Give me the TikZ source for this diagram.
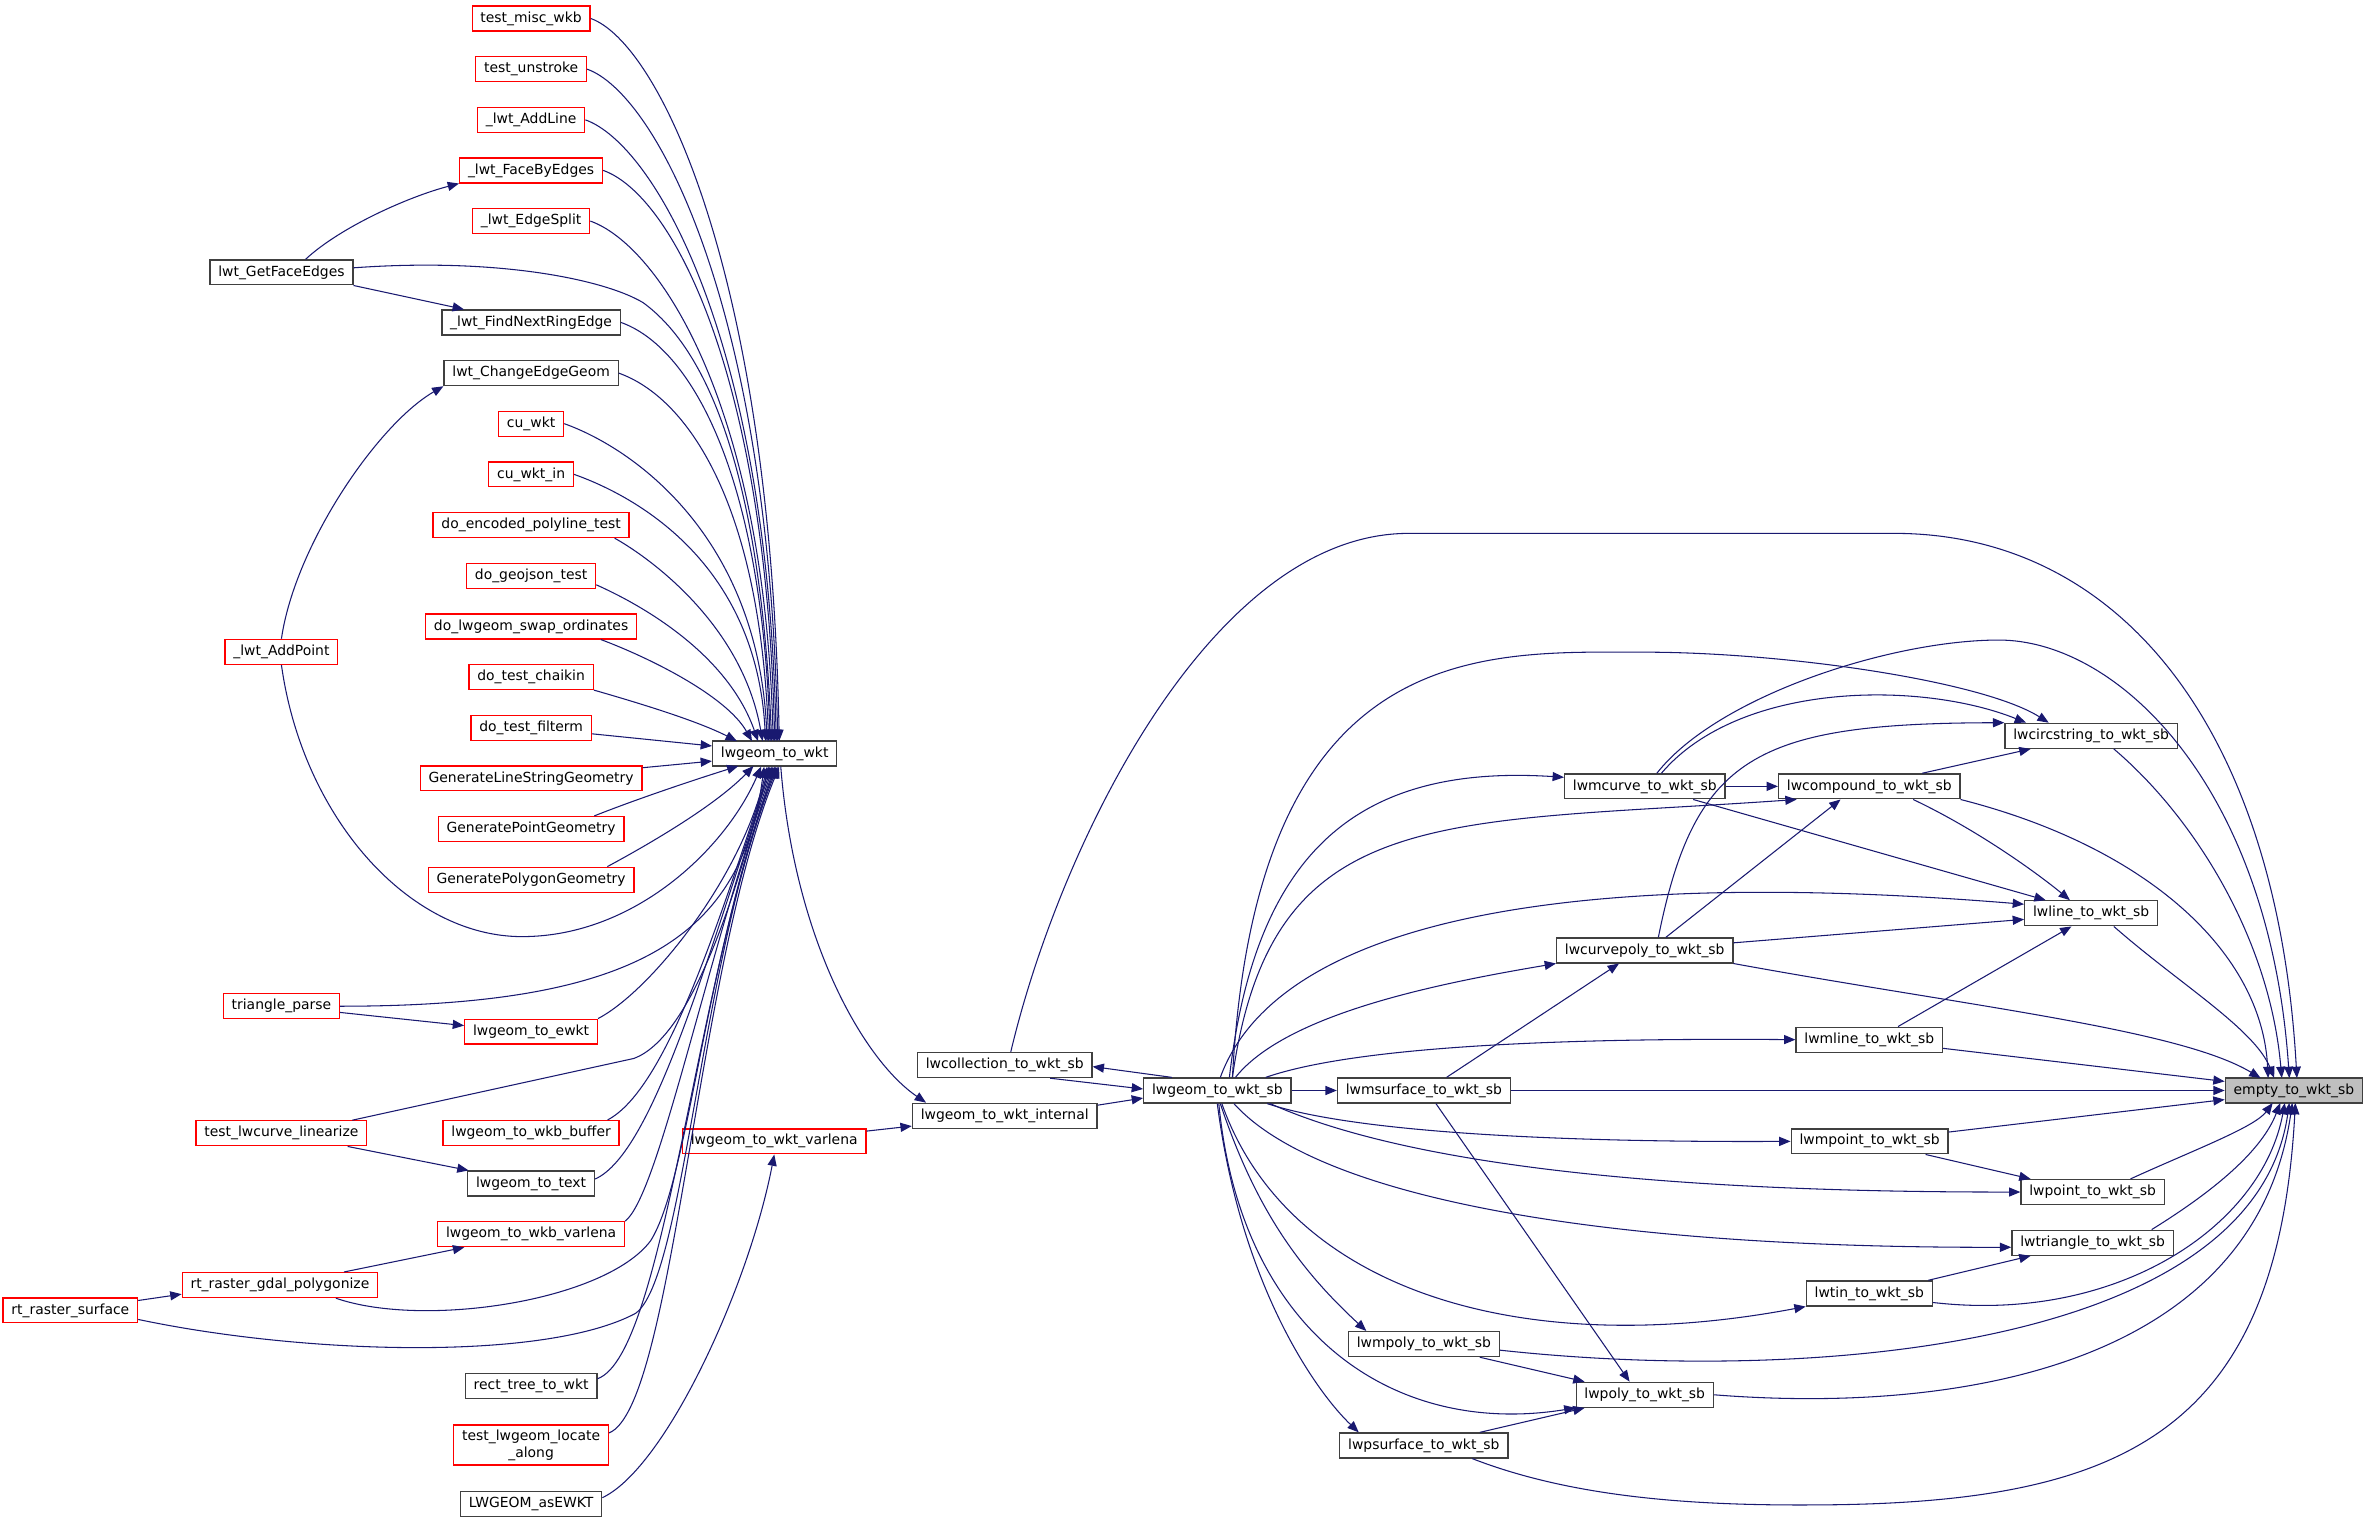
\documentclass[tikz,border=0pt]{standalone}
\usepackage{fontspec}
\newfontfamily\fnfont{DejaVu Sans}
\usetikzlibrary{arrows.meta}
\definecolor{callblue}{HTML}{191970}
\definecolor{curgray}{HTML}{BFBFBF}
\definecolor{boxline}{HTML}{404040}
\tikzset{
  fn/.style={rectangle, draw=boxline, fill=white, line width=0.85pt, inner xsep=5.5pt, inner ysep=0pt,
    minimum height=16.5pt, font=\fnfont\fontsize{9.2}{11}\selectfont},
  fnr/.style={fn, draw=red},
  fncur/.style={fn, fill=curgray},
  callto/.style={draw=callblue, line width=0.7pt, -{Triangle[length=7.5pt, width=6pt]}}
}
\begin{document}
\begin{tikzpicture}[x=1pt, y=-1pt]
    \useasboundingbox (0,0) rectangle (1565,1006.55);
    % callers of lwgeom_to_wkt
    \node[fnr] (mwkb) at (351,12.2) {test\_misc\_wkb};
    \node[fnr] (unstroke) at (351,45.7) {test\_unstroke};
    \node[fnr] (addline) at (351,79.2) {\_lwt\_AddLine};
    \node[fnr] (facebyedges) at (351,112.6) {\_lwt\_FaceByEdges};
    \node[fnr] (edgesplit) at (351,146.1) {\_lwt\_EdgeSplit};
    \node[fn] (getface) at (186,180) {lwt\_GetFaceEdges};
    \node[fn] (nextring) at (351,213.1) {\_lwt\_FindNextRingEdge};
    \node[fn] (changeedge) at (351,246.6) {lwt\_ChangeEdgeGeom};
    \node[fnr] (cuwkt) at (351,280) {cu\_wkt};
    \node[fnr] (cuwktin) at (351,313.5) {cu\_wkt\_in};
    \node[fnr] (encpoly) at (351,347) {do\_encoded\_polyline\_test};
    \node[fnr] (geojson) at (351,380.5) {do\_geojson\_test};
    \node[fnr] (swapord) at (351,414) {do\_lwgeom\_swap\_ordinates};
    \node[fnr] (addpoint) at (186,430.8) {\_lwt\_AddPoint};
    \node[fnr] (chaikin) at (351,447.4) {do\_test\_chaikin};
    \node[fnr] (filterm) at (351,480.9) {do\_test\_filterm};
    \node[fnr] (genline) at (351,514.4) {GenerateLineStringGeometry};
    \node[fnr] (genpoint) at (351,547.9) {GeneratePointGeometry};
    \node[fnr] (genpoly) at (351,581.4) {GeneratePolygonGeometry};
    \node[fnr] (triparse) at (186,665) {triangle\_parse};
    \node[fnr] (toewkt) at (351,681.8) {lwgeom\_to\_ewkt};
    \node[fnr] (curvelin) at (186,749) {test\_lwcurve\_linearize};
    \node[fnr] (wkbbuf) at (351,748.8) {lwgeom\_to\_wkb\_buffer};
    \node[fn] (totext) at (351,782.2) {lwgeom\_to\_text};
    \node[fnr] (wkbvar) at (351,815.7) {lwgeom\_to\_wkb\_varlena};
    \node[fnr] (gdalpoly) at (185,849.3) {rt\_raster\_gdal\_polygonize};
    \node[fnr] (rastsurf) at (46.5,866) {rt\_raster\_surface};
    \node[fn] (recttree) at (351,916.2) {rect\_tree\_to\_wkt};
    \node[fnr, align=center, minimum height=26.5pt] (locate) at (351,955) {test\_lwgeom\_locate\\\_along};
    \node[fn] (asewkt) at (351,993.8) {LWGEOM\_asEWKT};
    % middle
    \node[fn] (towkt) at (512,498) {lwgeom\_to\_wkt};
    \node[fnr] (wktvar) at (511.7,754.3) {lwgeom\_to\_wkt\_varlena};
    \node[fn] (wktint) at (664,737.4) {lwgeom\_to\_wkt\_internal};
    \node[fn] (coll) at (664,703.9) {lwcollection\_to\_wkt\_sb};
    \node[fn] (wktsb) at (804.5,720.7) {lwgeom\_to\_wkt\_sb};
    % writers
    \node[fn] (msurf) at (941,720.7) {lwmsurface\_to\_wkt\_sb};
    \node[fn] (mcurve) at (1087,519.7) {lwmcurve\_to\_wkt\_sb};
    \node[fn] (compound) at (1235.4,519.7) {lwcompound\_to\_wkt\_sb};
    \node[fn] (circ) at (1382,486.3) {lwcircstring\_to\_wkt\_sb};
    \node[fn] (line) at (1382,603.6) {lwline\_to\_wkt\_sb};
    \node[fn] (curvepoly) at (1087,628.1) {lwcurvepoly\_to\_wkt\_sb};
    \node[fn] (mline) at (1235.4,687.1) {lwmline\_to\_wkt\_sb};
    \node[fncur] (empty) at (1516,720.7) {empty\_to\_wkt\_sb};
    \node[fn] (mpoint) at (1235.6,754.3) {lwmpoint\_to\_wkt\_sb};
    \node[fn] (point) at (1383,787.8) {lwpoint\_to\_wkt\_sb};
    \node[fn] (triangle) at (1383,821.3) {lwtriangle\_to\_wkt\_sb};
    \node[fn] (tin) at (1235.4,854.8) {lwtin\_to\_wkt\_sb};
    \node[fn] (mpoly) at (941,888.3) {lwmpoly\_to\_wkt\_sb};
    \node[fn] (poly) at (1087,921.8) {lwpoly\_to\_wkt\_sb};
    \node[fn] (psurf) at (941,955.3) {lwpsurface\_to\_wkt\_sb};

    % into lwgeom_to_wkt from above
    \foreach \n/\ex/\h in {mwkb/515/310, unstroke/514/289, addline/513/267, facebyedges/512/245,
        edgesplit/511/223, nextring/509/180, changeedge/508/158, cuwkt/507/136, cuwktin/506/115}
        \draw[callto] (\n.east) .. controls +(45,16) and +(-6,-\h) .. (\ex,489.75);
    \draw[callto] ([yshift=3pt]getface.east) .. controls (330,170) and (400,185) .. (425,200)
        .. controls (480,240) and (504,350) .. (510,489.75);
    \draw[callto] ([xshift=-10pt]encpoly.south east) .. controls (425,366) and (490,410) .. (504,489.75);
    \draw[callto] ([yshift=-6pt]geojson.east) .. controls (420,398) and (480,430) .. (501,489.75);
    \draw[callto] ([xshift=-24pt]swapord.south east) .. controls (430,435) and (480,460) .. (497,489.75);
    \draw[callto] (chaikin.south east) .. controls (420,464) and (460,476) .. (487,489.75);
    \draw[callto] (filterm) -- ([yshift=5pt]towkt.west);
    \draw[callto] (genline) -- ([yshift=-5pt]towkt.west);
    \draw[callto] ([xshift=-20pt]genpoint.north east) .. controls (421,528) and (460,515) .. (488,506.25);
    \draw[callto] ([xshift=-18pt]genpoly.north east) .. controls (438,553) and (475,530) .. (498,506.25);
    % into lwgeom_to_wkt from below
    \draw[callto] (addpoint.south) .. controls (200,540) and (270,619) .. (345,619)
        .. controls (420,619) and (480,560) .. ([xshift=-9pt]towkt.south);
    \draw[callto] (triparse.east) .. controls (420,665) and (490,620) .. ([xshift=-7pt]towkt.south);
    \draw[callto] (toewkt.north east) .. controls (430,655) and (490,580) .. ([xshift=-5pt]towkt.south);
    \draw[callto] ([xshift=-10pt]curvelin.north east) -- (419,699.5)
        .. controls (455,686) and (485,600) .. ([xshift=-4pt]towkt.south);
    \draw[callto] ([xshift=-8pt]wkbbuf.north east) .. controls (440,720) and (475,610) .. ([xshift=-3pt]towkt.south);
    \draw[callto] ([yshift=3pt]totext.east) .. controls (432,762) and (468,630) .. ([xshift=-2pt]towkt.south);
    \draw[callto] (wkbvar.north east) .. controls (435,790) and (465,640) .. ([xshift=-1pt]towkt.south);
    \draw[callto] ([xshift=-28pt]gdalpoly.south east) .. controls (280,878) and (400,860) .. (430,820)
        .. controls (455,780) and (465,640) .. (towkt.south);
    \draw[callto] ([yshift=-6pt]rastsurf.east) .. controls (200,895) and (360,900) .. (420,868)
        .. controls (452,845) and (462,640) .. ([xshift=1pt]towkt.south);
    \draw[callto] ([yshift=5pt]recttree.east) .. controls (440,895) and (460,640) .. ([xshift=2pt]towkt.south);
    \draw[callto] ([yshift=8pt]locate.east) .. controls (445,930) and (460,640) .. ([xshift=3pt]towkt.south);
    % left side calls
    \draw[callto] ([xshift=16pt]getface.north) .. controls (225,150) and (270,130) .. (facebyedges.south west);
    \draw[callto] (getface.south east) -- ([xshift=15pt]nextring.north west);
    \draw[callto] (addpoint.north) .. controls (195,360) and (250,280) .. (changeedge.south west);
    \draw[callto] (triparse) -- ([yshift=4pt]toewkt.west);
    \draw[callto] (curvelin) -- ([xshift=1pt]totext.north west);
    \draw[callto] (gdalpoly) -- ([xshift=18pt]wkbvar.south west);
    \draw[callto] (rastsurf) -- ([yshift=-6pt]gdalpoly.west);
    \draw[callto] ([yshift=4pt]asewkt.east) .. controls (440,970) and (495,850) .. (wktvar.south);
    % towards lwgeom_to_wkt_sb
    \draw[callto] ([xshift=4pt]towkt.south) .. controls (525,620) and (570,700) .. ([xshift=-52pt]wktint.north);
    \draw[callto] (wktvar) -- (wktint);
    \draw[callto] ([yshift=7pt]wktint.east) -- ([yshift=-5pt]wktsb.west);
    \draw[callto] ([xshift=30pt]coll.south) -- ([yshift=1pt]wktsb.west);
    \draw[callto] ([xshift=-30pt]wktsb.north) -- ([yshift=-1pt]coll.east);
    % lwgeom_to_wkt_sb to the writers
    \draw[callto] (wktsb) -- (msurf);
    \draw[callto] ([xshift=8pt]wktsb.north) .. controls (830,560) and (900,505) .. ([yshift=6pt]mcurve.west);
    \draw[callto] ([xshift=10pt]wktsb.north) .. controls (840,530) and (950,545) .. ([xshift=-48pt]compound.south);
    \draw[callto] ([xshift=10pt]wktsb.north) .. controls (830,420) and (980,431) .. (1086,431)
        .. controls (1180,431) and (1310,450) .. ([xshift=-28pt]circ.north);
    \draw[callto] ([xshift=2pt]wktsb.north) .. controls (840,620) and (1000,570) .. ([yshift=6pt]line.west);
    \draw[callto] ([xshift=12pt]wktsb.north) .. controls (850,670) and (950,650) .. (curvepoly.south west);
    \draw[callto] ([xshift=32pt]wktsb.north) .. controls (900,690) and (1050,686) .. (mline.west);
    \draw[callto] ([xshift=33pt]wktsb.south) .. controls (900,750) and (1050,755) .. (mpoint.west);
    \draw[callto] ([xshift=35pt]wktsb.south) .. controls (930,770) and (1100,788) .. (point.west);
    \draw[callto] ([xshift=11pt]wktsb.south) .. controls (870,790) and (1050,825) .. ([yshift=-3pt]triangle.west);
    \draw[callto] ([xshift=3pt]wktsb.south) .. controls (850,850) and (1000,900) .. (tin.south west);
    \draw[callto] ([xshift=2pt]wktsb.south) .. controls (830,800) and (860,840) .. ([xshift=-38pt]mpoly.north);
    \draw[callto] ([xshift=1pt]wktsb.south) .. controls (820,880) and (920,950) .. (poly.south west);
    \draw[callto] (wktsb.south) .. controls (820,850) and (870,920) .. ([xshift=-43pt]psurf.north);
    % writers calling writers
    \draw[callto] (mcurve) -- (compound);
    \draw[callto] ([xshift=11pt]mcurve.north) .. controls (1150,450) and (1270,450) .. ([xshift=-43pt]circ.north);
    \draw[callto] ([xshift=32pt]mcurve.south) -- ([xshift=-30pt]line.north);
    \draw[callto] ([xshift=35pt]compound.north) -- ([xshift=-40pt]circ.south);
    \draw[callto] ([xshift=29pt]compound.south) .. controls (1310,550) and (1350,580) .. ([xshift=-14pt]line.north);
    \draw[callto] ([xshift=9pt]curvepoly.north) .. controls (1120,500) and (1160,478) .. (circ.north west);
    \draw[callto] ([xshift=14pt]curvepoly.north) -- ([xshift=-19pt]compound.south);
    \draw[callto] ([yshift=5pt]curvepoly.east) -- ([yshift=-4pt]line.west);
    \draw[callto] ([xshift=15pt]msurf.north) -- ([xshift=-17pt]curvepoly.south);
    \draw[callto] ([xshift=8pt]msurf.south) -- ([xshift=-10pt]poly.north);
    \draw[callto] ([xshift=19pt]mline.north) -- ([xshift=-13pt]line.south);
    \draw[callto] ([xshift=37pt]mpoint.south) -- ([xshift=-41pt]point.north);
    \draw[callto] ([xshift=39pt]tin.north) -- ([xshift=-41pt]triangle.south);
    \draw[callto] ([xshift=37pt]mpoly.south) -- ([xshift=6pt]poly.north west);
    \draw[callto] ([xshift=37pt]psurf.north) -- ([xshift=6pt]poly.south west);
    % into empty_to_wkt_sb
    \draw[callto] ([xshift=4pt]coll.north) .. controls (700,560) and (800,352.5) .. (931,352.5) -- (1252,352.5)
        .. controls (1400,352.5) and (1505,480) .. (1518,712.45);
    \draw[callto] ([xshift=8pt]mcurve.north) .. controls (1135,460) and (1250,423) .. (1321,423)
        .. controls (1400,423) and (1500,520) .. (1513,712.45);
    \draw[callto] ([xshift=15pt]circ.south) .. controls (1450,540) and (1500,620) .. (1508,712.45);
    \draw[callto] (compound.south east) .. controls (1420,560) and (1495,630) .. (1499,712.45);
    \draw[callto] ([xshift=15pt]line.south) .. controls (1440,650) and (1490,680) .. (1503,712.45);
    \draw[callto] (curvepoly.south east) .. controls (1300,665) and (1440,680) .. (1494,712.45);
    \draw[callto] (mline) -- ([yshift=6pt]empty.west);
    \draw[callto] (msurf) -- (empty);
    \draw[callto] (mpoint) -- ([yshift=-6pt]empty.west);
    \draw[callto] ([xshift=25pt]point.north) .. controls (1450,760) and (1490,745) .. (1502,728.95);
    \draw[callto] ([xshift=39pt]triangle.north) .. controls (1465,786) and (1495,760) .. (1507,728.95);
    \draw[callto] ([yshift=-6pt]tin.east) .. controls (1400,875) and (1495,810) .. (1510,728.95);
    \draw[callto] ([yshift=-4pt]mpoly.east) .. controls (1200,915) and (1490,890) .. (1513,728.95);
    \draw[callto] (poly.east) .. controls (1300,935) and (1490,900) .. (1515,728.95);
    \draw[callto] ([xshift=32pt]psurf.south) .. controls (1040,990) and (1120,995) .. (1197.5,994.6)
        .. controls (1400,994) and (1505,950) .. (1517,728.95);
\end{tikzpicture}
\end{document}
